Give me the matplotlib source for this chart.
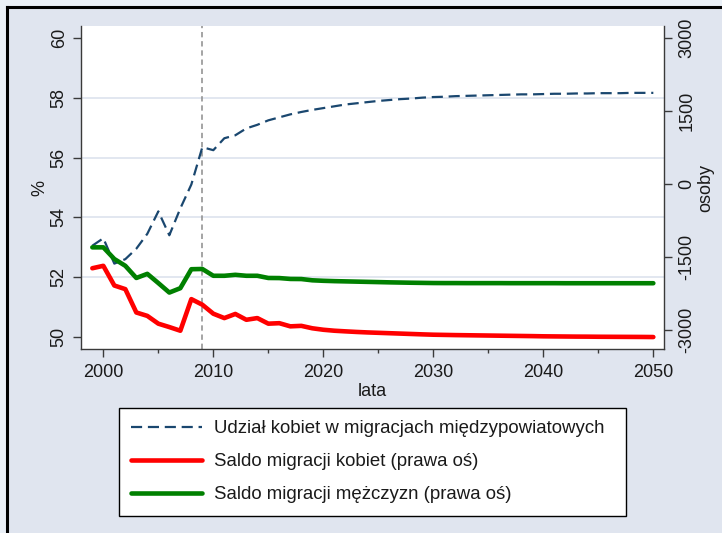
import matplotlib
matplotlib.use("Agg")
import matplotlib.pyplot as plt
from matplotlib.patches import Rectangle
from matplotlib.lines import Line2D

plt.rcParams['font.family'] = ['Liberation Sans', 'DejaVu Sans']

# dane
lata = list(range(1999, 2051))
udzial_kobiet = [53.05, 53.30, 52.45, 52.60, 52.95, 53.45, 54.20, 53.40, 54.30, 55.10,
                 56.35, 56.25, 56.65, 56.75, 56.98, 57.10, 57.25, 57.35, 57.45, 57.53,
                 57.60, 57.66, 57.72, 57.78, 57.82, 57.86, 57.90, 57.93, 57.96, 57.98,
                 58.01, 58.03, 58.04, 58.06, 58.07, 58.08, 58.09, 58.10, 58.11, 58.12,
                 58.12, 58.13, 58.14, 58.14, 58.15, 58.15, 58.16, 58.16, 58.16, 58.17,
                 58.17, 58.17]
saldo_kobiet = [-1730, -1680, -2085, -2160, -2640, -2710, -2870, -2940, -3015, -2365,
                -2480, -2665, -2755, -2670, -2790, -2755, -2870, -2860, -2925, -2915,
                -2965, -2995, -3015, -3028, -3040, -3050, -3058, -3066, -3074, -3082,
                -3090, -3097, -3101, -3105, -3108, -3111, -3114, -3117, -3120, -3123,
                -3126, -3130, -3132, -3134, -3136, -3137, -3139, -3140, -3141, -3142,
                -3143, -3145]
saldo_mezczyzn = [-1300, -1300, -1540, -1680, -1930, -1845, -2035, -2230, -2140, -1750,
                  -1745, -1885, -1885, -1865, -1885, -1885, -1930, -1932, -1950, -1952,
                  -1978, -1988, -1995, -2000, -2005, -2010, -2015, -2020, -2024, -2028,
                  -2031, -2034, -2035, -2035, -2036, -2036, -2036, -2036, -2037, -2037,
                  -2037, -2037, -2037, -2038, -2038, -2038, -2038, -2038, -2038, -2038,
                  -2038, -2038]

etykiety = ["Udział kobiet w migracjach międzypowiatowych",
            "Saldo migracji kobiet (prawa oś)",
            "Saldo migracji mężczyzn (prawa oś)"]

W, H = 722, 533
BG = '#e0e5ef'
fig = plt.figure(figsize=(W / 100, H / 100), dpi=100, facecolor=BG)

# ramka zewnętrzna
fig.patches.append(Rectangle((0, 1 - 7 / H), 1, 7 / H, transform=fig.transFigure,
                             facecolor='#eaf0f7', edgecolor='none', zorder=0))
fig.patches.append(Rectangle((0, 0), 7 / W, 1, transform=fig.transFigure,
                             facecolor='#eaf0f7', edgecolor='none', zorder=0))
fig.lines.append(Line2D([7 / W, 1], [1 - 7 / H, 1 - 7 / H], transform=fig.transFigure,
                        color='black', lw=2.2))
fig.lines.append(Line2D([7 / W, 7 / W], [0, 1 - 7 / H], transform=fig.transFigure,
                        color='black', lw=2.2))

ax1 = fig.add_axes([81 / W, 1 - 349 / H, (664 - 81) / W, (349 - 26) / H])
ax1.set_facecolor('white')
ax2 = ax1.twinx()

SP = '#3a3a3a'
ax1.axvline(2009, color='#8c8c8c', lw=1.1, ls=(0, (3.5, 2.5)), zorder=1)
l1, = ax1.plot(lata, udzial_kobiet, color='#1a476f', lw=1.6, ls=(0, (5, 2.6)), zorder=3)
l2, = ax2.plot(lata, saldo_kobiet, color='#ff0000', lw=3.3, solid_capstyle='round')
l3, = ax2.plot(lata, saldo_mezczyzn, color='#008000', lw=3.3, solid_capstyle='round')

ax1.set_xlim(1997.97, 2050.97)
ax1.set_ylim(49.59, 60.41)
ax2.set_ylim(-3391, 3253)

ax1.set_yticks([50, 52, 54, 56, 58, 60])
ax1.set_yticklabels(['50', '52', '54', '56', '58', '60'], rotation=90, va='center')
ax2.set_yticks([-3000, -1500, 0, 1500, 3000])
ax2.set_yticklabels(['-3000', '-1500', '0', '1500', '3000'], rotation=90, va='center')
ax1.set_xticks([2000, 2010, 2020, 2030, 2040, 2050])
ax1.set_xticks([2005, 2015, 2025, 2035, 2045], minor=True)

for y in [52, 54, 56, 58]:
    ax1.axhline(y, color='#e2e7f0', lw=1.4, zorder=0.5)

for ax in (ax1, ax2):
    for s in ax.spines.values():
        s.set_color(SP)
        s.set_linewidth(1.0)
    ax.spines['top'].set_visible(False)
ax1.spines['right'].set_visible(False)
ax2.spines['left'].set_visible(False)
ax2.spines['bottom'].set_visible(False)

ax1.tick_params(axis='y', length=5.5, width=1, color=SP, labelsize=13, pad=4, labelcolor='#1a1a1a')
ax1.tick_params(axis='x', which='major', length=5.5, width=1, color=SP, labelsize=13, pad=5,
                labelcolor='#1a1a1a')
ax1.tick_params(axis='x', which='minor', length=3, width=1, color=SP)
ax2.tick_params(axis='y', length=5.5, width=1, color=SP, labelsize=13, pad=5, labelcolor='#1a1a1a')

ax1.set_ylabel('%', fontsize=13, labelpad=2, color='#1a1a1a')
ax2.set_ylabel('osoby', fontsize=13, labelpad=1, color='#1a1a1a')
ax1.set_xlabel('lata', fontsize=13, labelpad=2, color='#1a1a1a')

leg = fig.legend([l1, l2, l3], etykiety, loc='upper left',
                 bbox_to_anchor=(119 / W, 1 - 512 / H, (626 - 119) / W, (512 - 408) / H),
                 mode='expand', borderaxespad=0, fontsize=13.4, handlelength=3.8,
                 handletextpad=0.65, labelspacing=0.86, borderpad=0.66,
                 fancybox=False, framealpha=1, edgecolor='black')
leg.get_frame().set_linewidth(1.0)
for t in leg.get_texts():
    t.set_color('#1a1a1a')

fig.savefig('out.png', dpi=100, facecolor=BG)
